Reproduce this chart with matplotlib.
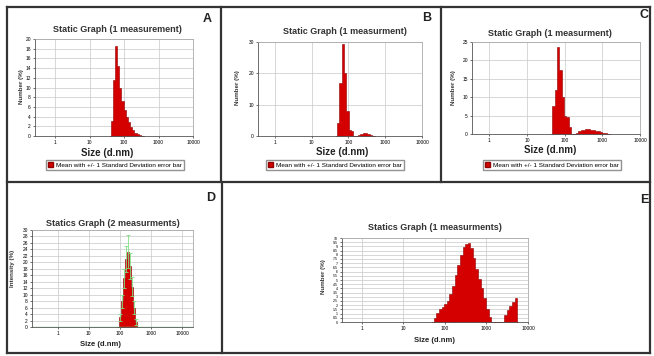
import matplotlib.pyplot as plt
from matplotlib.lines import Line2D
from matplotlib.patches import Rectangle

plt.rcParams['font.family'] = ['Liberation Sans', 'DejaVu Sans']

W, H = 654, 356

# A - number distribution
a_size = [38, 43.9, 50.7, 58.6, 67.6, 78.1, 90.2, 104, 120, 139, 161, 186, 214, 248, 286, 330, 381]
a_val = [0, 3, 11.5, 18.5, 14.5, 10, 7.2, 5.3, 3.9, 2.8, 1.9, 1.2, 0.7, 0.4, 0.2, 0.05, 0]

# B - number distribution
b_size = [46, 53, 61, 71, 82, 95, 110, 127, 147, 170, 196, 226, 261, 302, 349, 403, 466, 538]
b_val = [0, 4, 17, 29.5, 20, 8, 2, 1.5, 0, 0.1, 0.4, 0.7, 0.9, 0.9, 0.7, 0.4, 0.15, 0]

# C - number distribution
c_size = [44, 51, 59, 68, 78, 90, 104, 120, 139, 160, 185, 214, 247, 285, 330, 381, 440,
          508, 587, 678, 783, 904, 1044, 1206, 1393, 1609]
c_val = [0, 7.5, 12, 23.7, 17.5, 10, 4.8, 4.5, 2, 0, 0, 0.3, 0.7, 1.0, 1.2, 1.3, 1.3,
         1.2, 1.1, 0.9, 0.7, 0.5, 0.35, 0.2, 0.1, 0]

# D - intensity distribution (mean of 2 measurements) with std
d_size = [86, 100, 115, 133, 153, 177, 204, 236, 272, 315, 363]
d_val = [0, 3, 8, 15, 21, 23.3, 19, 12.5, 6, 1.5, 0]
d_err = [0, 1, 2, 3, 4, 5, 4, 3, 2, 1, 0]

# E - number distribution
e_size = [50.7, 58.6, 67.6, 78.1, 90.2, 104, 120, 139, 161, 186, 214, 248, 286, 330, 381,
          440, 508, 587, 678, 783, 904, 1044, 1206, 1393, 1609, 1858, 2146, 2478, 2862,
          3305, 3818, 4409, 5093, 5882]
e_val = [0, 0.5, 1.1, 1.5, 1.8, 2.1, 2.5, 3.3, 4.3, 5.6, 6.8, 8.0, 8.9, 9.3, 9.4,
         8.8, 7.6, 6.3, 5.1, 4.0, 2.8, 1.6, 0.6, 0, 0, 0, 0, 0, 0.8,
         1.4, 1.9, 2.4, 2.8, 0]

x_ticks = [1, 10, 100, 1000, 10000]
x_labels = ['1', '10', '100', '1000', '10000']

RED = '#d40000'
legend_text = 'Mean with +/- 1 Standard Deviation error bar'


def fx(x):
    return x / W


def fy(y):
    return 1 - y / H


def make_ax(fig, l, r, t, b):
    ax = fig.add_axes([fx(l), fy(b), fx(r - l), (b - t) / H])
    ax.set_xscale('log')
    ax.set_xticks(x_ticks)
    ax.set_xticklabels(x_labels)
    ax.minorticks_off()
    ax.tick_params(labelsize=3.5, length=1.5, width=0.4, pad=1.5)
    ax.grid(True, color='#c8c8c8', lw=0.5)
    ax.set_axisbelow(True)
    for s in ax.spines.values():
        s.set_color('#aaaaaa')
        s.set_linewidth(0.6)
    ax.spines['bottom'].set_color('#555555')
    ax.spines['left'].set_color('#555555')
    return ax


fig = plt.figure(figsize=(6.54, 3.56), dpi=100)

# panel frames
frame = dict(color='#333333', lw=1.6)
for seg in [((7, 650), (7, 7)), ((7, 650), (182, 182)), ((7, 650), (353, 353)),
            ((7, 7), (7, 353)), ((650, 650), (7, 353)),
            ((221, 221), (7, 182)), ((441, 441), (7, 182)), ((222, 222), (182, 353))]:
    fig.add_artist(Line2D([fx(v) for v in seg[0]], [fy(v) for v in seg[1]], **frame))

# A
ax = make_ax(fig, 35, 193, 39, 136)
ax.fill_between(a_size, a_val, step='mid', color=RED, edgecolor='#900000', lw=0.4)
ax.set_xlim(0.26, 10000)
ax.set_ylim(0, 20)
ax.set_yticks(range(0, 21, 2))

# B
ax = make_ax(fig, 258, 422, 42, 136)
ax.fill_between(b_size, b_val, step='mid', color=RED, edgecolor='#900000', lw=0.4)
ax.set_xlim(0.35, 10000)
ax.set_ylim(0, 30)
ax.set_yticks(range(0, 31, 10))

# C
ax = make_ax(fig, 472, 640, 42, 134)
ax.fill_between(c_size, c_val, step='mid', color=RED, edgecolor='#900000', lw=0.4)
ax.set_xlim(0.35, 10000)
ax.set_ylim(0, 25)
ax.set_yticks(range(0, 26, 5))

# D
ax = make_ax(fig, 32, 193, 230, 327)
ax.fill_between(d_size, d_val, step='mid', color=RED, edgecolor='#900000', lw=0.4)
ax.errorbar(d_size, d_val, yerr=d_err, fmt='none', ecolor='#7fe07f', elinewidth=0.6,
            capsize=1.5, capthick=0.6)
ax.axhline(0, color='#7fe07f', lw=1.0)
ax.set_xlim(0.15, 22000)
ax.set_ylim(0, 30)
ax.set_yticks(range(0, 31, 2))

# E
ax = make_ax(fig, 342, 528, 238, 322)
ax.fill_between(e_size, e_val, step='mid', color=RED, edgecolor='#900000', lw=0.4)
ax.set_xlim(0.34, 10000)
ax.set_ylim(0, 10)
ax.set_yticks([i * 0.5 for i in range(21)])
ax.set_yticklabels([('%g' % (i * 0.5)) for i in range(21)])
ax.tick_params(axis='y', labelsize=2.6)

# titles
tkw = dict(ha='center', va='center', fontsize=6.5, fontweight='bold', color='#333333')
fig.text(fx(117), fy(30), 'Static Graph (1 measurement)', **tkw)
fig.text(fx(345), fy(32), 'Static Graph (1 measurment)', **tkw)
fig.text(fx(550), fy(33), 'Static Graph (1 measurment)', **tkw)
fig.text(fx(113), fy(223), 'Statics Graph (2 measurments)', **tkw)
fig.text(fx(435), fy(228), 'Statics Graph (1 measurments)', **tkw)

# x labels
xkw = dict(ha='center', va='center', color='#222222', fontweight='bold')
fig.text(fx(107), fy(153), 'Size (d.nm)', fontsize=7, **xkw)
fig.text(fx(342), fy(152), 'Size (d.nm)', fontsize=7, **xkw)
fig.text(fx(550), fy(150), 'Size (d.nm)', fontsize=7, **xkw)
fig.text(fx(100), fy(345), 'Size (d.nm)', fontsize=5.5, **xkw)
fig.text(fx(435), fy(340), 'Size (d.nm)', fontsize=5.5, **xkw)

# y labels
ykw = dict(ha='center', va='center', rotation=90, fontsize=4.5, fontweight='bold', color='#333333')
fig.text(fx(22), fy(87), 'Number (%)', **ykw)
fig.text(fx(238), fy(88), 'Number (%)', **ykw)
fig.text(fx(454), fy(88), 'Number (%)', **ykw)
fig.text(fx(13), fy(268), 'Intensity (%)', **ykw)
fig.text(fx(323), fy(277), 'Number (%)', **ykw)

# panel letters
lkw = dict(ha='center', va='center', fontsize=9, fontweight='bold', color='#222222')
fig.text(fx(207), fy(19), 'A', **lkw)
fig.text(fx(427), fy(18), 'B', **lkw)
fig.text(fx(644), fy(15), 'C', **lkw)
fig.text(fx(211), fy(198), 'D', **lkw)
fig.text(fx(644), fy(200), 'E', **lkw)

# legends
for cx in [115, 335, 552]:
    fig.legend(handles=[Rectangle((0, 0), 1, 1, facecolor=RED, edgecolor='#900000')],
               labels=[legend_text], loc='center', bbox_to_anchor=(fx(cx), fy(165)),
               fontsize=4.6, frameon=True, fancybox=False, edgecolor='#777777',
               handlelength=0.8, handleheight=0.8, handletextpad=0.4, borderpad=0.3,
               borderaxespad=0)

fig.savefig('out.png', dpi=100)
